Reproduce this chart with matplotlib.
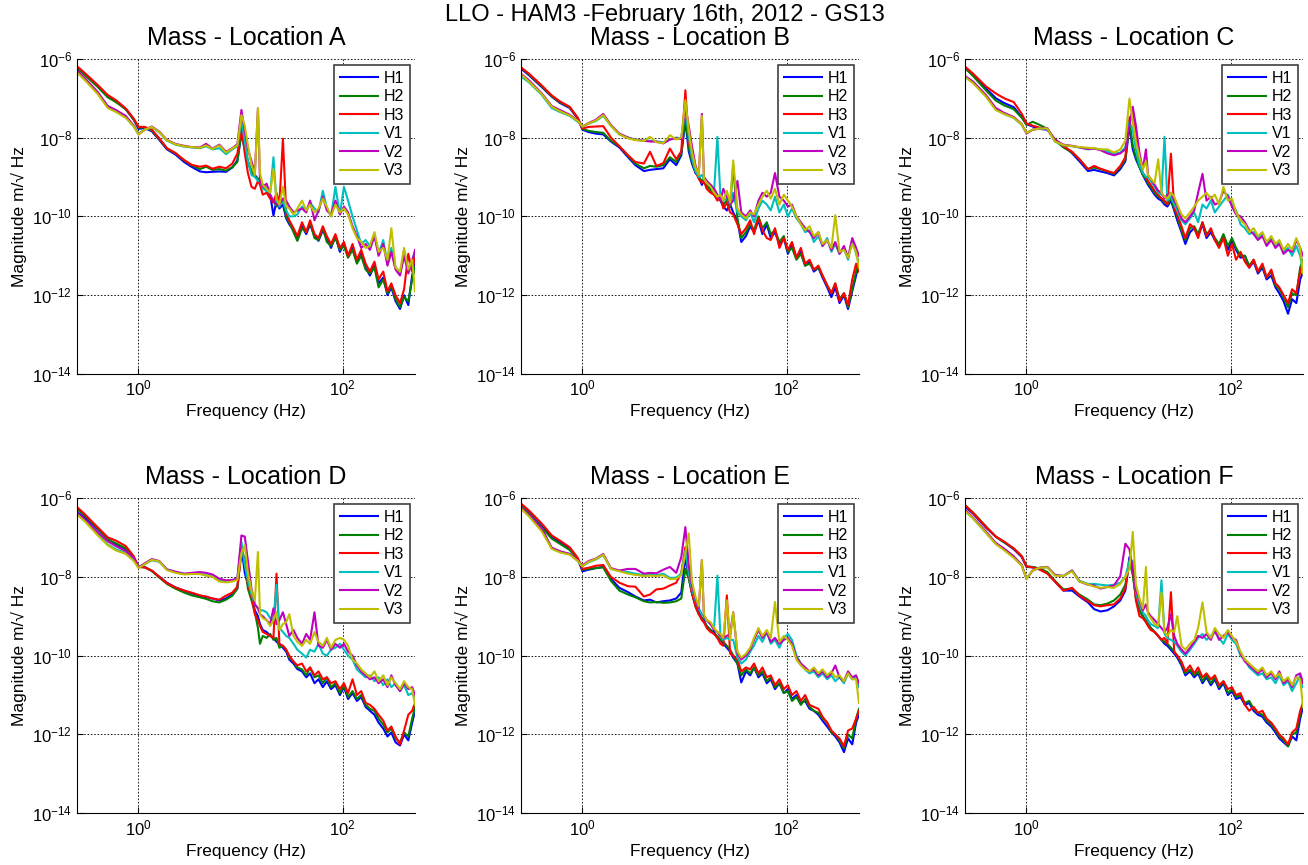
import numpy as np
import matplotlib.pyplot as plt
from matplotlib.ticker import LogFormatterSciNotation, NullLocator, FixedLocator

plt.rcParams['font.family'] = ['Liberation Sans', 'DejaVu Sans']
plt.rcParams['mathtext.fontset'] = 'custom'
plt.rcParams['mathtext.rm'] = 'Liberation Sans'
plt.rcParams['mathtext.it'] = 'Liberation Sans:italic'
plt.rcParams['mathtext.bf'] = 'Liberation Sans:bold'

# frequency grid (Hz)
freq = [0.25, 0.3, 0.4, 0.5, 0.6, 0.75, 0.9, 1.0,
        1.15, 1.35, 1.6, 1.9, 2.3, 2.8, 3.3,
        4.0, 4.6, 5.3, 6.2, 7.2, 8.3, 9.3,
        10.2, 11.0, 11.8, 12.8, 13.8, 14.8, 15.5, 16.5,
        18, 19.5, 21, 22.5, 24, 26, 28, 30, 33, 36,
        40, 44, 48, 53, 58, 64, 70, 77, 85, 94,
        103, 113, 125, 138, 152, 168, 185, 205, 225, 250,
        275, 300, 330, 365, 400, 440, 480, 512]

channels = ['H1', 'H2', 'H3', 'V1', 'V2', 'V3']

# log10 of magnitude (m/sqrt(Hz))
a_h1 = [-6.25, -6.40, -6.70, -6.95, -7.08, -7.28, -7.55, -7.78,
        -7.76, -7.84, -8.06, -8.30, -8.43, -8.62, -8.74,
        -8.86, -8.88, -8.87, -8.86, -8.87, -8.76, -8.58,
        -7.90, -8.30, -8.65, -8.85, -8.95, -9.05, -9.10, -9.20,
        -9.30, -9.45, -9.98, -9.60, -9.80, -9.70, -10.05, -10.20, -10.35, -10.60,
        -10.25, -10.45, -10.20, -10.50, -10.62, -10.35, -10.55, -10.80, -10.50, -10.90,
        -10.70, -11.00, -10.80, -11.15, -10.95, -11.30, -11.50, -11.25, -11.70, -11.55,
        -12.00, -11.80, -12.15, -12.35, -12.00, -12.25, -11.50, -11.20]
a_h2 = [-6.23, -6.42, -6.72, -6.98, -7.10, -7.28, -7.55, -7.75,
        -7.75, -7.82, -8.04, -8.28, -8.40, -8.58, -8.70,
        -8.80, -8.74, -8.82, -8.80, -8.84, -8.75, -8.62,
        -7.85, -8.20, -8.60, -8.85, -8.98, -9.05, -9.15, -9.25,
        -9.35, -9.50, -9.60, -9.75, -9.70, -9.55, -10.00, -10.15, -10.40, -10.62,
        -10.30, -10.40, -10.15, -10.55, -10.60, -10.30, -10.65, -10.75, -10.55, -10.85,
        -10.75, -11.05, -10.85, -11.20, -11.00, -11.35, -11.45, -11.30, -11.80, -11.60,
        -11.95, -11.75, -12.10, -12.30, -12.05, -12.15, -11.60, -11.30]
a_h3 = [-6.19, -6.37, -6.67, -6.92, -7.05, -7.26, -7.52, -7.73,
        -7.73, -7.80, -8.02, -8.27, -8.39, -8.57, -8.69,
        -8.74, -8.71, -8.79, -8.74, -8.78, -8.66, -8.41,
        -7.73, -8.40, -8.90, -9.25, -9.30, -9.10, -9.20, -9.45,
        -9.40, -9.55, -9.65, -9.40, -9.70, -8.03, -9.90, -10.10, -10.30, -10.50,
        -10.15, -10.40, -10.10, -10.45, -10.55, -10.25, -10.50, -10.70, -10.45, -10.80,
        -10.65, -11.00, -10.70, -11.10, -10.85, -11.20, -11.40, -11.15, -11.60, -11.40,
        -11.90, -11.70, -12.00, -12.20, -11.85, -10.95, -11.40, -11.00]
a_v1 = [-6.33, -6.53, -6.88, -7.22, -7.33, -7.48, -7.72, -7.90,
        -7.80, -7.74, -7.87, -8.08, -8.18, -8.23, -8.25,
        -8.27, -8.22, -8.30, -8.27, -8.42, -8.30, -8.22,
        -7.56, -8.10, -8.60, -8.95, -9.00, -9.10, -9.10, -9.30,
        -9.35, -9.40, -8.50, -9.65, -9.75, -9.60, -9.85, -10.00, -10.00, -9.95,
        -9.75, -9.85, -9.65, -9.80, -9.90, -9.35, -9.80, -10.00, -9.25, -9.95,
        -9.25, -9.60, -10.00, -10.35, -10.70, -10.60, -10.75, -10.45, -10.95, -10.60,
        -11.20, -10.80, -11.30, -11.45, -10.90, -11.40, -11.10, -10.90]
a_v2 = [-6.30, -6.50, -6.85, -7.20, -7.30, -7.45, -7.70, -7.92,
        -7.80, -7.72, -7.85, -8.06, -8.16, -8.21, -8.24,
        -8.25, -8.16, -8.28, -8.18, -8.36, -8.27, -8.17,
        -7.30, -7.85, -8.30, -8.60, -8.90, -7.26, -9.10, -9.25,
        -9.17, -9.45, -9.60, -9.70, -9.70, -9.55, -9.60, -9.75, -9.90, -9.85,
        -9.80, -9.90, -9.60, -10.10, -9.85, -9.50, -9.85, -9.95, -9.60, -9.95,
        -9.75, -9.90, -10.25, -10.50, -10.80, -10.70, -10.85, -10.50, -11.00, -10.70,
        -11.25, -10.90, -11.35, -11.50, -11.00, -11.45, -11.15, -10.85]
a_v3 = [-6.35, -6.55, -6.90, -7.25, -7.35, -7.50, -7.72, -7.92,
        -7.80, -7.73, -7.86, -8.07, -8.17, -8.22, -8.24,
        -8.26, -8.20, -8.29, -8.20, -8.38, -8.28, -8.20,
        -7.43, -7.70, -8.20, -8.70, -8.95, -7.26, -8.90, -9.20,
        -9.30, -9.40, -8.80, -9.55, -9.70, -9.25, -9.75, -9.80, -9.95, -9.80,
        -9.60, -9.85, -9.70, -9.90, -9.80, -9.55, -9.75, -10.00, -9.70, -9.90,
        -9.80, -9.95, -10.30, -10.55, -10.65, -10.80, -10.75, -10.40, -10.90, -10.80,
        -11.10, -10.30, -11.30, -11.40, -10.80, -11.35, -11.10, -11.90]

b_h1 = [-6.25, -6.42, -6.72, -6.96, -7.12, -7.25, -7.52, -7.80,
        -7.86, -7.90, -7.92, -8.10, -8.25, -8.50, -8.70,
        -8.85, -8.82, -8.80, -8.78, -8.55, -8.70, -8.45,
        -7.56, -8.35, -8.65, -8.90, -9.00, -9.20, -9.10, -9.25,
        -9.30, -9.45, -9.50, -9.60, -9.75, -9.85, -9.70, -9.90, -10.10, -10.65,
        -10.50, -10.25, -10.40, -10.10, -10.45, -10.20, -10.55, -10.40, -10.70, -10.55,
        -10.95, -10.70, -11.05, -10.90, -11.25, -11.15, -11.40, -11.30, -11.55, -11.80,
        -12.05, -11.80, -12.20, -12.00, -12.35, -11.90, -11.50, -11.20]
b_h2 = [-6.22, -6.40, -6.70, -6.95, -7.10, -7.23, -7.50, -7.78,
        -7.83, -7.86, -7.88, -8.08, -8.22, -8.47, -8.66,
        -8.78, -8.72, -8.74, -8.70, -8.50, -8.62, -8.40,
        -7.45, -8.25, -8.60, -8.85, -9.00, -9.10, -9.05, -9.20,
        -9.35, -9.40, -9.55, -9.45, -9.70, -9.60, -9.75, -8.70, -10.05, -10.55,
        -10.40, -10.20, -10.35, -10.00, -10.30, -10.15, -10.45, -10.35, -10.65, -10.50,
        -10.90, -10.80, -11.10, -10.95, -11.25, -11.20, -11.35, -11.30, -11.50, -11.75,
        -11.95, -11.70, -12.10, -11.95, -12.30, -11.85, -11.40, -11.10]
b_h3 = [-6.22, -6.38, -6.68, -6.93, -7.08, -7.22, -7.50, -7.77,
        -7.73, -7.72, -7.71, -8.00, -8.22, -8.45, -8.62,
        -8.66, -8.36, -8.72, -8.65, -8.28, -8.55, -8.35,
        -6.80, -8.10, -8.50, -8.85, -9.05, -9.15, -9.10, -9.30,
        -9.40, -9.45, -9.60, -9.50, -9.80, -9.65, -9.90, -9.95, -10.20, -10.45,
        -10.30, -10.10, -10.45, -10.05, -10.35, -10.55, -10.60, -10.30, -10.80, -10.55,
        -10.85, -10.65, -11.05, -10.80, -11.20, -11.10, -11.35, -11.25, -11.50, -11.75,
        -11.95, -11.70, -12.15, -11.95, -12.25, -11.60, -11.20, -11.40]
b_v1 = [-6.45, -6.60, -6.92, -7.25, -7.35, -7.45, -7.60, -7.72,
        -7.65, -7.58, -7.45, -7.70, -7.92, -8.00, -8.05,
        -8.08, -8.08, -8.10, -8.12, -8.05, -8.00, -8.02,
        -7.30, -7.95, -8.50, -8.85, -9.00, -8.95, -9.05, -9.15,
        -9.20, -9.35, -7.98, -9.50, -9.60, -9.55, -9.70, -9.40, -9.90, -10.00,
        -10.10, -9.90, -10.15, -9.80, -9.60, -9.70, -9.85, -9.50, -9.90, -9.70,
        -10.00, -9.80, -10.05, -10.20, -10.40, -10.35, -10.65, -10.50, -10.75, -10.55,
        -10.90, -10.70, -10.95, -10.80, -11.10, -10.60, -10.95, -11.20]
b_v2 = [-6.38, -6.55, -6.88, -7.20, -7.30, -7.42, -7.57, -7.72,
        -7.63, -7.55, -7.40, -7.68, -7.90, -8.00, -8.06,
        -8.08, -8.10, -8.10, -8.15, -8.05, -8.02, -8.04,
        -7.20, -7.70, -8.20, -8.70, -8.95, -7.40, -9.00, -9.10,
        -9.20, -9.30, -9.45, -9.60, -9.30, -9.50, -9.70, -9.60, -9.10, -9.90,
        -10.00, -9.85, -10.00, -9.60, -9.40, -9.50, -9.40, -8.90, -9.50, -9.60,
        -9.75, -9.70, -10.00, -10.15, -10.30, -10.40, -10.55, -10.40, -10.75, -10.60,
        -10.85, -10.65, -10.95, -10.75, -11.05, -10.55, -10.80, -11.00]
b_v3 = [-6.40, -6.58, -6.90, -7.22, -7.33, -7.44, -7.58, -7.72,
        -7.64, -7.57, -7.43, -7.70, -7.92, -8.02, -8.06,
        -8.09, -7.98, -8.12, -8.14, -7.94, -8.05, -8.00,
        -7.05, -7.80, -8.35, -8.75, -8.95, -7.45, -9.05, -9.15,
        -9.25, -9.40, -9.50, -9.45, -9.60, -9.35, -9.65, -8.58, -9.80, -9.95,
        -10.05, -9.90, -9.95, -9.70, -9.50, -9.35, -9.55, -9.30, -9.70, -9.45,
        -9.60, -9.75, -10.00, -10.20, -10.35, -10.25, -10.50, -10.40, -10.70, -10.60,
        -10.80, -9.97, -10.90, -10.85, -11.05, -10.70, -10.90, -11.30]

c_h1 = [-6.24, -6.42, -6.75, -7.00, -7.12, -7.23, -7.48, -7.66,
        -7.72, -7.78, -7.80, -8.05, -8.20, -8.40, -8.60,
        -8.85, -8.82, -8.86, -8.90, -8.96, -8.80, -8.60,
        -7.70, -8.30, -8.55, -8.75, -8.95, -9.10, -9.20, -9.30,
        -9.45, -9.55, -9.60, -9.70, -9.75, -9.60, -9.85, -10.10, -10.40, -10.70,
        -10.40, -10.30, -10.50, -10.20, -10.55, -10.40, -10.60, -10.75, -10.50, -10.85,
        -10.60, -10.85, -11.05, -11.00, -11.30, -11.15, -11.45, -11.30, -11.60, -11.50,
        -11.80, -11.95, -12.15, -12.47, -12.10, -12.20, -11.60, -11.40]
c_h2 = [-6.23, -6.44, -6.80, -7.06, -7.18, -7.28, -7.50, -7.68,
        -7.60, -7.68, -7.78, -8.07, -8.25, -8.38, -8.55,
        -8.80, -8.76, -8.80, -8.86, -8.92, -8.75, -8.55,
        -7.60, -8.20, -8.50, -8.75, -8.95, -9.05, -9.15, -9.25,
        -9.40, -9.50, -9.55, -9.65, -9.70, -9.55, -9.80, -10.00, -10.35, -10.60,
        -10.30, -10.25, -10.45, -10.15, -10.45, -10.35, -10.55, -10.70, -10.45, -10.75,
        -10.55, -10.80, -11.00, -11.00, -11.25, -11.10, -11.40, -11.25, -11.55, -11.40,
        -11.75, -11.85, -12.05, -12.30, -11.95, -12.00, -11.30, -11.10]
c_h3 = [-6.20, -6.38, -6.70, -6.88, -7.00, -7.10, -7.40, -7.64,
        -7.70, -7.75, -7.78, -8.05, -8.22, -8.36, -8.55,
        -8.80, -8.72, -8.79, -8.85, -8.90, -8.72, -8.50,
        -7.50, -7.40, -7.81, -8.60, -8.90, -9.00, -9.10, -9.20,
        -9.35, -9.45, -9.55, -9.60, -9.70, -8.41, -9.80, -9.95, -10.25, -10.55,
        -10.20, -10.30, -10.55, -10.15, -10.50, -10.30, -10.60, -10.80, -10.55, -11.00,
        -10.70, -11.10, -10.90, -11.15, -11.30, -11.10, -11.40, -11.20, -11.55, -11.35,
        -11.70, -11.80, -12.00, -12.20, -11.85, -11.95, -11.40, -11.20]
c_v1 = [-6.46, -6.60, -6.95, -7.28, -7.40, -7.50, -7.68, -7.88,
        -7.80, -7.77, -7.77, -8.10, -8.20, -8.22, -8.25,
        -8.30, -8.28, -8.30, -8.35, -8.42, -8.38, -8.25,
        -7.60, -7.80, -8.30, -8.70, -8.90, -9.00, -9.00, -9.10,
        -9.25, -9.40, -9.45, -7.98, -9.60, -9.50, -9.70, -9.85, -10.10, -10.20,
        -10.05, -9.90, -10.15, -9.70, -9.80, -9.60, -9.90, -9.75, -9.60, -9.45,
        -9.70, -9.85, -10.20, -10.30, -10.45, -10.40, -10.55, -10.45, -10.70, -10.55,
        -10.75, -10.65, -10.90, -10.80, -11.00, -10.75, -11.00, -11.40]
c_v2 = [-6.44, -6.58, -6.92, -7.25, -7.37, -7.48, -7.66, -7.90,
        -7.80, -7.77, -7.76, -8.08, -8.18, -8.21, -8.25,
        -8.29, -8.28, -8.32, -8.40, -8.45, -8.40, -8.30,
        -7.70, -7.22, -7.70, -8.40, -8.80, -8.30, -8.95, -9.05,
        -9.20, -9.35, -9.40, -9.55, -9.45, -9.40, -9.60, -9.75, -10.05, -10.15,
        -10.00, -9.85, -9.40, -8.92, -9.60, -9.50, -9.70, -9.65, -9.35, -9.50,
        -9.75, -9.95, -10.00, -10.15, -10.35, -10.45, -10.60, -10.50, -10.75, -10.60,
        -10.80, -10.70, -10.95, -10.85, -10.90, -10.60, -10.80, -11.00]
c_v3 = [-6.47, -6.62, -6.96, -7.30, -7.40, -7.50, -7.67, -7.88,
        -7.80, -7.77, -7.77, -8.10, -8.19, -8.22, -8.24,
        -8.26, -8.27, -8.30, -8.30, -8.38, -8.30, -8.08,
        -7.01, -7.60, -8.10, -8.50, -8.80, -8.60, -8.95, -9.05,
        -9.15, -8.55, -9.40, -9.50, -9.55, -9.40, -9.50, -9.70, -9.95, -10.05,
        -9.90, -9.75, -9.60, -9.50, -9.40, -9.55, -9.45, -9.70, -9.25, -9.60,
        -9.55, -9.90, -10.10, -10.20, -10.40, -10.30, -10.50, -10.40, -10.65, -10.50,
        -10.70, -10.60, -10.85, -10.70, -10.85, -10.55, -10.80, -11.45]

d_h1 = [-6.36, -6.50, -6.80, -7.05, -7.18, -7.30, -7.55, -7.75,
        -7.75, -7.85, -8.00, -8.15, -8.27, -8.35, -8.42,
        -8.48, -8.52, -8.55, -8.60, -8.55, -8.45, -8.30,
        -7.25, -7.90, -8.20, -8.50, -8.85, -9.00, -9.20, -9.35,
        -9.40, -9.50, -9.55, -9.65, -9.70, -9.80, -9.90, -10.10, -10.20, -10.34,
        -10.40, -10.55, -10.45, -10.70, -10.60, -10.80, -10.65, -10.85, -10.75, -11.00,
        -10.80, -11.10, -10.95, -11.15, -11.05, -11.30, -11.40, -11.50, -11.70, -11.85,
        -12.05, -11.95, -12.20, -12.28, -12.00, -12.15, -11.70, -11.40]
d_h2 = [-6.28, -6.45, -6.78, -7.05, -7.15, -7.28, -7.52, -7.75,
        -7.76, -7.85, -8.02, -8.18, -8.30, -8.40, -8.47,
        -8.52, -8.56, -8.62, -8.65, -8.58, -8.48, -8.30,
        -7.30, -7.60, -8.30, -8.60, -8.90, -9.30, -9.70, -9.50,
        -9.55, -9.45, -9.60, -9.55, -9.80, -9.75, -9.85, -10.05, -10.15, -10.30,
        -10.35, -10.50, -10.30, -10.55, -10.50, -10.70, -10.55, -10.80, -10.70, -10.95,
        -10.75, -11.05, -10.90, -11.10, -11.00, -11.25, -11.35, -11.40, -11.60, -11.75,
        -11.95, -11.85, -12.10, -12.20, -11.95, -12.05, -11.60, -11.30]
d_h3 = [-6.23, -6.42, -6.75, -7.00, -7.08, -7.22, -7.48, -7.75,
        -7.76, -7.84, -8.00, -8.16, -8.27, -8.35, -8.40,
        -8.47, -8.50, -8.55, -8.58, -8.48, -8.40, -8.25,
        -7.40, -7.52, -8.20, -8.50, -8.95, -9.10, -9.25, -9.40,
        -9.45, -9.50, -9.55, -7.92, -9.70, -9.75, -9.85, -10.00, -10.15, -10.25,
        -10.20, -10.40, -10.30, -10.50, -10.40, -10.60, -10.55, -10.70, -10.65, -10.85,
        -10.70, -10.95, -10.60, -11.00, -10.90, -11.20, -11.25, -11.35, -11.50, -11.65,
        -11.90, -11.80, -12.05, -12.25, -11.90, -11.50, -11.40, -11.20]
d_v1 = [-6.40, -6.58, -6.93, -7.18, -7.30, -7.40, -7.58, -7.75,
        -7.68, -7.58, -7.62, -7.82, -7.88, -7.93, -7.92,
        -7.92, -7.96, -7.97, -8.10, -8.12, -8.10, -8.05,
        -7.12, -7.70, -8.10, -8.45, -8.70, -8.80, -8.85, -8.85,
        -8.90, -9.05, -9.10, -8.20, -9.30, -9.40, -9.50, -9.55, -9.70, -9.85,
        -9.95, -10.05, -9.85, -9.90, -9.70, -9.95, -10.00, -9.85, -9.80, -9.70,
        -9.85, -10.00, -10.10, -10.35, -10.45, -10.55, -10.50, -10.65, -10.55, -10.75,
        -10.60, -10.80, -10.70, -10.90, -10.75, -11.00, -10.95, -11.10]
d_v2 = [-6.38, -6.55, -6.88, -7.10, -7.22, -7.35, -7.52, -7.76,
        -7.66, -7.55, -7.60, -7.81, -7.87, -7.92, -7.90,
        -7.88, -7.90, -7.94, -8.05, -8.09, -8.08, -8.04,
        -6.95, -6.98, -7.60, -8.30, -8.70, -8.80, -8.95, -9.00,
        -9.10, -9.20, -8.80, -9.20, -9.10, -8.90, -9.20, -9.50, -9.35, -9.55,
        -9.70, -9.45, -9.60, -8.90, -9.75, -9.80, -9.60, -9.85, -9.70, -9.80,
        -9.70, -9.90, -10.00, -10.25, -10.40, -10.50, -10.60, -10.55, -10.70, -10.60,
        -10.80, -10.50, -10.75, -10.90, -10.70, -10.85, -10.80, -11.00]
d_v3 = [-6.42, -6.60, -6.95, -7.20, -7.33, -7.42, -7.60, -7.78,
        -7.68, -7.57, -7.61, -7.83, -7.90, -7.94, -7.93,
        -7.93, -7.97, -8.00, -8.12, -8.14, -8.12, -8.08,
        -7.40, -7.20, -7.90, -8.35, -8.60, -7.37, -8.95, -9.05,
        -9.10, -9.25, -9.10, -8.90, -9.35, -9.20, -9.15, -8.95, -9.50, -9.65,
        -9.75, -9.60, -9.70, -9.40, -9.65, -9.75, -9.55, -9.80, -9.60, -9.55,
        -9.60, -9.75, -10.10, -10.20, -10.35, -10.45, -10.55, -10.40, -10.65, -10.50,
        -10.75, -10.55, -10.70, -10.85, -10.65, -10.80, -10.85, -11.25]

e_h1 = [-6.19, -6.38, -6.72, -6.98, -7.12, -7.28, -7.55, -7.86,
        -7.82, -7.78, -7.75, -8.05, -8.28, -8.39, -8.50,
        -8.60, -8.58, -8.65, -8.62, -8.60, -8.55, -8.40,
        -7.50, -8.00, -8.40, -8.70, -8.90, -9.05, -9.10, -9.25,
        -9.35, -9.40, -9.55, -9.60, -9.70, -9.80, -9.90, -10.05, -10.20, -10.68,
        -10.40, -10.50, -10.30, -10.55, -10.45, -10.70, -10.60, -10.85, -10.70, -10.95,
        -10.85, -11.10, -11.00, -11.20, -11.15, -11.35, -11.40, -11.50, -11.65, -11.80,
        -11.95, -12.05, -12.20, -12.45, -12.10, -12.25, -11.70, -11.50]
e_h2 = [-6.20, -6.40, -6.75, -7.03, -7.16, -7.32, -7.55, -7.82,
        -7.80, -7.78, -7.76, -8.10, -8.35, -8.45, -8.52,
        -8.62, -8.65, -8.64, -8.66, -8.65, -8.62, -8.55,
        -7.80, -8.05, -8.40, -8.75, -8.95, -9.05, -9.15, -9.25,
        -9.35, -9.45, -9.50, -9.60, -9.65, -9.75, -9.85, -10.00, -10.20, -10.50,
        -10.35, -10.45, -10.30, -10.50, -10.40, -10.65, -10.55, -10.80, -10.70, -10.95,
        -10.90, -11.15, -11.05, -11.25, -11.10, -11.30, -11.40, -11.45, -11.60, -11.70,
        -11.95, -12.00, -12.15, -12.35, -12.00, -12.10, -11.60, -11.35]
e_h3 = [-6.14, -6.32, -6.65, -6.95, -7.08, -7.25, -7.52, -7.80,
        -7.77, -7.72, -7.70, -8.00, -8.15, -8.24, -8.25,
        -8.50, -8.45, -8.32, -8.30, -8.22, -8.15, -7.90,
        -7.25, -7.90, -8.40, -8.75, -8.95, -9.10, -9.15, -9.30,
        -9.40, -9.45, -9.55, -9.70, -9.75, -8.47, -9.95, -10.00, -10.10, -10.40,
        -10.30, -10.35, -10.20, -10.45, -10.30, -10.55, -10.50, -10.75, -10.60, -10.85,
        -10.75, -11.00, -10.90, -11.15, -11.00, -11.25, -11.30, -11.35, -11.55, -11.70,
        -11.90, -12.00, -12.10, -12.30, -11.90, -11.85, -11.60, -11.40]
e_v1 = [-6.25, -6.45, -6.80, -7.28, -7.36, -7.42, -7.60, -7.73,
        -7.63, -7.56, -7.45, -7.80, -7.85, -7.88, -7.92,
        -7.96, -7.95, -7.96, -7.92, -8.03, -8.02, -7.92,
        -7.35, -7.90, -8.30, -8.60, -8.80, -8.95, -9.00, -9.10,
        -9.20, -9.30, -7.97, -9.50, -9.60, -9.55, -9.60, -9.60, -10.05, -10.20,
        -10.10, -9.90, -9.75, -9.50, -9.65, -9.40, -9.70, -9.60, -9.80, -9.55,
        -9.45, -9.60, -10.00, -10.20, -10.35, -10.45, -10.40, -10.55, -10.45, -10.60,
        -10.50, -10.65, -10.55, -10.70, -10.45, -10.60, -10.55, -10.80]
e_v2 = [-6.24, -6.43, -6.78, -7.26, -7.35, -7.42, -7.58, -7.71,
        -7.60, -7.54, -7.42, -7.78, -7.84, -7.80, -7.80,
        -7.92, -7.90, -7.91, -7.82, -7.75, -7.90, -7.50,
        -6.74, -7.70, -8.20, -8.55, -8.80, -7.58, -9.00, -9.10,
        -9.20, -9.35, -9.40, -9.50, -9.55, -9.50, -9.45, -8.90, -9.95, -10.10,
        -10.00, -9.85, -9.60, -9.35, -9.55, -9.40, -9.65, -9.55, -9.70, -9.60,
        -9.55, -9.70, -10.05, -10.20, -10.30, -10.40, -10.35, -10.50, -10.40, -10.55,
        -10.45, -10.25, -10.55, -10.65, -10.40, -10.55, -10.50, -10.70]
e_v3 = [-6.27, -6.47, -6.85, -7.29, -7.38, -7.44, -7.60, -7.73,
        -7.62, -7.55, -7.44, -7.80, -7.86, -7.92, -7.95,
        -7.98, -7.97, -7.98, -7.96, -8.06, -8.05, -7.95,
        -7.40, -6.90, -8.10, -8.50, -8.75, -7.58, -8.95, -9.10,
        -9.15, -9.30, -9.40, -9.45, -9.55, -8.60, -9.60, -8.90, -9.90, -10.05,
        -9.95, -9.80, -9.55, -9.30, -9.50, -9.35, -9.55, -8.64, -9.65, -9.50,
        -9.60, -9.75, -10.10, -10.25, -10.35, -10.40, -10.30, -10.45, -10.35, -10.50,
        -10.40, -10.55, -10.50, -10.65, -10.45, -10.60, -10.60, -11.20]

f_h1 = [-6.22, -6.40, -6.75, -6.98, -7.12, -7.30, -7.50, -7.75,
        -7.76, -7.80, -7.90, -8.12, -8.35, -8.35, -8.50,
        -8.65, -8.82, -8.88, -8.85, -8.75, -8.60, -8.35,
        -7.50, -7.90, -8.50, -8.85, -9.00, -9.15, -9.20, -9.30,
        -9.40, -9.50, -9.60, -9.70, -9.75, -9.85, -9.95, -10.05, -10.25, -10.50,
        -10.40, -10.55, -10.45, -10.70, -10.55, -10.75, -10.60, -10.85, -10.70, -11.00,
        -10.90, -11.10, -11.05, -11.25, -11.20, -11.40, -11.50, -11.55, -11.70, -11.80,
        -11.95, -12.10, -12.20, -12.30, -12.05, -12.15, -11.60, -11.30]
f_h2 = [-6.18, -6.37, -6.72, -6.98, -7.12, -7.28, -7.48, -7.73,
        -7.75, -7.79, -7.88, -8.10, -8.32, -8.30, -8.45,
        -8.58, -8.70, -8.72, -8.68, -8.60, -8.45, -8.20,
        -7.60, -7.95, -8.55, -8.85, -9.00, -9.10, -9.20, -9.30,
        -9.40, -9.50, -9.60, -9.65, -9.70, -9.80, -9.90, -10.00, -10.20, -10.45,
        -10.35, -10.50, -10.40, -10.65, -10.50, -10.70, -10.55, -10.80, -10.65, -10.95,
        -10.85, -11.05, -11.00, -11.20, -11.15, -11.35, -11.45, -11.50, -11.65, -11.75,
        -11.90, -12.05, -12.15, -12.30, -12.00, -11.95, -11.50, -11.20]
f_h3 = [-6.19, -6.38, -6.73, -6.98, -7.10, -7.28, -7.48, -7.74,
        -7.76, -7.82, -7.92, -8.12, -8.35, -8.28, -8.48,
        -8.62, -8.72, -8.75, -8.72, -8.70, -8.55, -8.30,
        -7.60, -7.73, -8.60, -9.00, -9.05, -9.15, -9.25, -9.35,
        -9.40, -9.50, -9.60, -9.55, -9.70, -8.39, -9.90, -10.00, -10.15, -10.40,
        -10.25, -10.45, -10.30, -10.55, -10.45, -10.60, -10.50, -10.75, -10.65, -10.85,
        -10.80, -11.00, -10.95, -11.25, -11.40, -11.30, -11.45, -11.40, -11.60, -11.70,
        -11.85, -12.00, -12.10, -12.25, -11.95, -11.85, -11.40, -11.20]
f_v1 = [-6.33, -6.52, -6.88, -7.16, -7.30, -7.50, -7.72, -8.05,
        -7.84, -7.77, -7.75, -7.95, -7.98, -7.84, -8.10,
        -8.18, -8.18, -8.20, -8.22, -8.20, -8.15, -8.00,
        -7.60, -7.60, -8.40, -8.70, -8.90, -9.00, -9.10, -9.20,
        -9.25, -9.30, -8.09, -9.45, -9.55, -9.60, -9.65, -9.75, -9.90, -10.00,
        -9.85, -9.70, -9.55, -9.45, -9.60, -9.50, -9.40, -9.55, -9.70, -9.45,
        -9.60, -9.70, -10.00, -10.10, -10.30, -10.40, -10.50, -10.45, -10.60, -10.55,
        -10.70, -10.50, -10.75, -10.65, -10.90, -10.70, -10.50, -10.80]
f_v2 = [-6.30, -6.50, -6.85, -7.14, -7.28, -7.48, -7.70, -8.05,
        -7.84, -7.77, -7.75, -7.95, -7.98, -7.84, -8.12,
        -8.20, -8.22, -8.30, -8.26, -8.22, -7.98, -7.16,
        -7.30, -7.80, -8.35, -8.60, -8.85, -8.70, -8.90, -9.00,
        -9.10, -9.20, -9.30, -9.40, -9.30, -8.95, -9.50, -9.70, -9.85, -9.95,
        -9.80, -9.65, -9.50, -9.55, -9.45, -9.60, -9.35, -9.60, -9.50, -9.40,
        -9.55, -9.60, -9.95, -10.15, -10.25, -10.35, -10.45, -10.35, -10.55, -10.45,
        -10.60, -10.40, -10.70, -10.60, -10.80, -10.50, -10.45, -10.70]
f_v3 = [-6.33, -6.52, -6.88, -7.17, -7.32, -7.52, -7.72, -8.05,
        -7.84, -7.77, -7.76, -7.97, -7.98, -7.86, -8.12,
        -8.19, -8.25, -8.28, -8.26, -8.28, -8.18, -8.00,
        -7.80, -6.86, -8.20, -8.55, -8.80, -7.75, -8.95, -9.05,
        -9.20, -9.25, -8.40, -9.40, -9.50, -9.35, -9.40, -9.00, -9.75, -9.85,
        -9.70, -9.60, -9.30, -8.65, -9.40, -9.55, -9.30, -9.45, -9.55, -9.35,
        -9.50, -9.65, -9.90, -10.10, -10.20, -10.30, -10.40, -10.30, -10.50, -10.40,
        -10.55, -10.45, -10.65, -10.55, -10.75, -10.55, -10.60, -11.30]

panels = [
    ('A', [a_h1, a_h2, a_h3, a_v1, a_v2, a_v3]),
    ('B', [b_h1, b_h2, b_h3, b_v1, b_v2, b_v3]),
    ('C', [c_h1, c_h2, c_h3, c_v1, c_v2, c_v3]),
    ('D', [d_h1, d_h2, d_h3, d_v1, d_v2, d_v3]),
    ('E', [e_h1, e_h2, e_h3, e_v1, e_v2, e_v3]),
    ('F', [f_h1, f_h2, f_h3, f_v1, f_v2, f_v3]),
]

# matlab's old default color order
colors = [(0, 0, 1), (0, 0.5, 0), (1, 0, 0),
          (0, 0.75, 0.75), (0.75, 0, 0.75), (0.75, 0.75, 0)]

lefts = [0.0589, 0.3983, 0.7378]
bottoms = [0.5676, 0.0598]
w, h = 0.2584, 0.3645

fig = plt.figure(figsize=(13.08, 8.65), dpi=100)

for k, (name, traces) in enumerate(panels):
    ax = fig.add_axes([lefts[k % 3], bottoms[k // 3], w, h])
    for tr, col, lab in zip(traces, colors, channels):
        ax.loglog(freq, 10.0 ** np.array(tr), color=col, lw=1.5, label=lab)

    ax.set_xlim(0.25, 512)
    ax.set_ylim(1e-14, 1e-6)
    ax.xaxis.set_major_locator(FixedLocator([1, 100]))
    ax.yaxis.set_major_locator(FixedLocator([1e-14, 1e-12, 1e-10, 1e-8, 1e-6]))
    ax.xaxis.set_minor_locator(NullLocator())
    ax.yaxis.set_minor_locator(NullLocator())
    ax.xaxis.set_major_formatter(LogFormatterSciNotation())
    ax.yaxis.set_major_formatter(LogFormatterSciNotation())
    ax.tick_params(direction='in', length=4, width=0.8, labelsize=12)
    ax.grid(True, color='black', linestyle=(0, (2, 2)), linewidth=0.6)

    ax.spines['top'].set_visible(False)
    ax.spines['right'].set_visible(False)

    ax.set_title('Mass - Location ' + name, fontsize=18, pad=10)
    ax.set_xlabel('Frequency (Hz)', fontsize=12.5)
    ax.set_ylabel('Magnitude m/\u221a Hz', fontsize=12.5)

    leg = ax.legend(loc='upper right', bbox_to_anchor=(0.985, 0.98),
                    borderaxespad=0, fontsize=11.5, handlelength=2.4,
                    handletextpad=0.35, borderpad=0.35,
                    labelspacing=0.22, fancybox=False, framealpha=1)
    leg.get_frame().set_edgecolor('0.25')
    leg.get_frame().set_linewidth(1.2)

fig.suptitle('LLO - HAM3 -February 16th, 2012 - GS13', x=0.508, y=0.995,
             fontsize=17)

fig.savefig('out.png', dpi=100)
